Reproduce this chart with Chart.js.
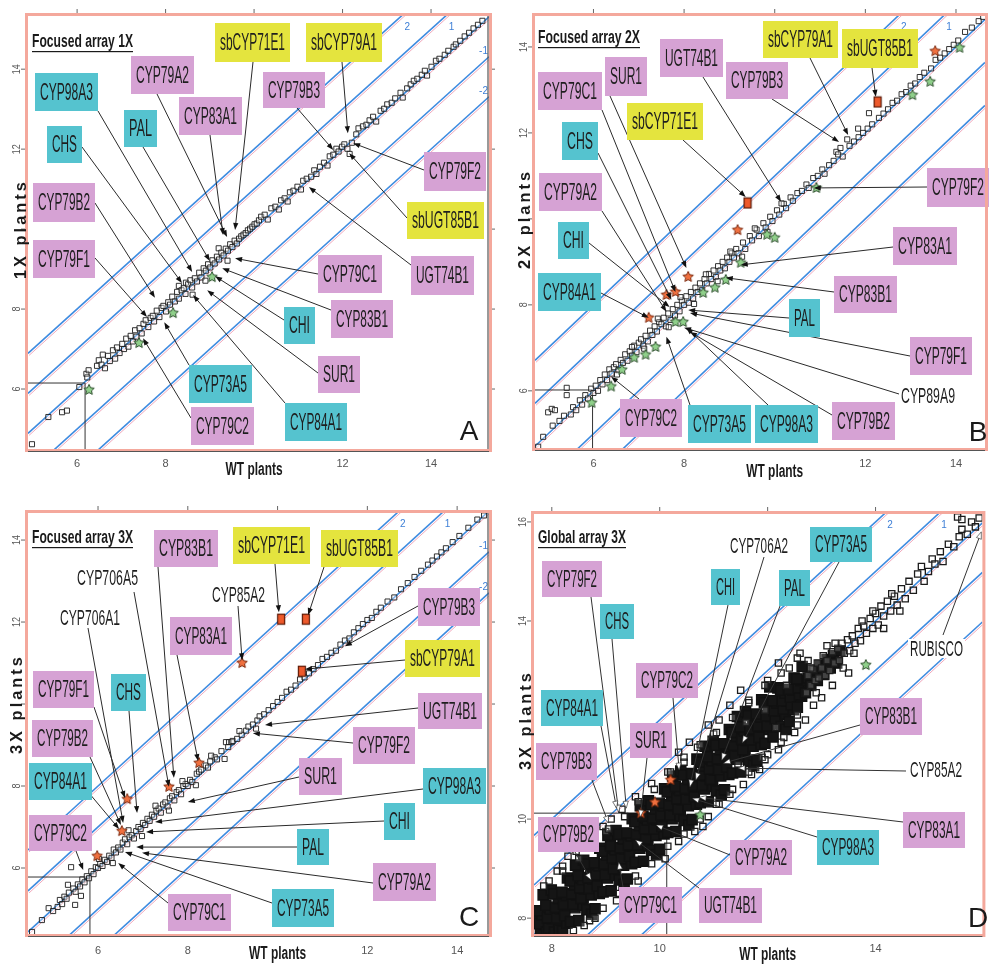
<!DOCTYPE html>
<html>
<head>
<meta charset="utf-8">
<script src="https://cdn.jsdelivr.net/npm/chart.js@4.4.1/dist/chart.umd.min.js"></script>
<style>
  body { margin: 0; background: #fff; width: 991px; height: 965px; position: relative; overflow: hidden; }
  .panel { position: absolute; }
</style>
</head>
<body>
<div class="panel" style="left:0;top:0;width:495px;height:480px"><canvas id="cA" width="495" height="480"></canvas></div>
<div class="panel" style="left:495px;top:0;width:496px;height:480px"><canvas id="cB" width="496" height="480"></canvas></div>
<div class="panel" style="left:0;top:480px;width:495px;height:485px"><canvas id="cC" width="495" height="485"></canvas></div>
<div class="panel" style="left:495px;top:480px;width:496px;height:485px"><canvas id="cD" width="496" height="485"></canvas></div>
<script>
// ---- log2 expression values: [WT, transgenic] ----
const ticksFocused = [6, 8, 10, 12, 14];
const ticksGlobal = [8, 10, 12, 14, 16];
const ratioLines = [-2, -1, 0, 1, 2];

const pointsA = [
[4.98,4.62],[5.35,5.30],[5.66,5.42],[5.77,5.46],[6.05,6.05],[6.21,6.38],[6.26,6.47],[6.23,6.29],
[6.45,6.58],[6.49,6.72],[6.55,6.61],[6.58,6.86],[6.63,6.52],[6.70,6.83],[6.74,6.70],[6.81,6.97],[6.86,6.76],[6.90,7.04],[6.96,6.90],[7.02,7.13],[7.06,7.00],[7.11,7.26],[7.16,7.06],[7.21,7.33],[7.26,7.19],[7.31,7.47],[7.34,7.31],[7.41,7.52],[7.46,7.39],[7.50,7.63],[7.55,7.72],[7.61,7.55],[7.66,7.78],[7.71,7.83],[7.74,7.69],[7.80,7.96],[7.86,7.80],[7.91,8.03],[7.95,8.08],[8.01,7.94],[8.06,8.17],[8.10,8.11],
[8.15,8.31],[8.21,8.19],[8.26,8.43],[8.30,8.26],[8.30,8.58],[8.36,8.47],[8.41,8.52],[8.45,8.38],[8.46,8.66],[8.51,8.62],[8.56,8.72],[8.60,8.54],[8.61,8.36],[8.66,8.77],[8.71,8.69],[8.76,8.91],[8.81,8.79],[8.86,9.02],[8.90,8.71],[8.91,8.96],[8.96,9.12],[9.01,9.04],[9.06,9.22],[9.11,9.14],[9.16,9.31],[9.20,9.52],[9.21,9.24],[9.26,9.41],[9.31,9.34],[9.36,9.51],[9.40,9.21],[9.41,9.46],[9.46,9.62],[9.51,9.55],[9.56,9.71],[9.61,9.64],[9.66,9.76],[9.71,9.82],[9.76,9.86],[9.81,9.90],[9.86,9.97],[9.91,10.01],[9.96,10.06],[10.01,10.12],[10.06,10.14],[10.11,10.22],
[10.16,10.31],[10.24,10.36],[10.31,10.24],[10.39,10.52],[10.48,10.56],[10.56,10.49],[10.61,10.72],[10.69,10.77],[10.76,10.69],[10.81,10.92],[10.89,10.96],[10.98,11.06],[11.06,10.99],[11.11,11.21],[11.19,11.26],[11.29,11.31],[11.36,11.47],[11.41,11.38],[11.49,11.56],[11.58,11.66],[11.66,11.59],[11.71,11.82],[11.79,11.86],[11.86,12.01],[11.91,11.94],[11.99,12.06],[12.04,12.12],[12.11,12.01],[12.16,11.88],[12.21,12.16],[12.31,12.37],[12.36,12.52],
[12.46,12.57],[12.54,12.61],[12.61,12.72],[12.69,12.81],[12.76,12.69],[12.86,12.96],[12.94,13.01],[13.01,13.12],[13.11,13.16],[13.19,13.27],[13.31,13.41],[13.36,13.29],[13.46,13.52],[13.54,13.62],[13.61,13.71],[13.69,13.76],[13.79,13.86],[13.86,13.96],[13.91,13.84],[14.01,14.06],[14.11,14.21],[14.19,14.26],[14.31,14.36],[14.39,14.46],[14.51,14.56],[14.56,14.62],[14.66,14.71],[14.76,14.82],[14.86,14.91],[14.96,15.02],[15.06,15.11],[15.16,15.21]];
const greenA = [[6.27,5.98],[7.40,7.15],[8.17,7.90],[9.05,8.80]];
const orangeStarA = [];
const orangeSqA = [];
const cutA = [6.18, 6.15];

const pointsB = [
[4.78,4.70],[4.89,4.93],[5.10,5.19],[5.00,5.50],[5.08,5.58],[5.15,5.55],[5.41,6.07],[5.41,5.90],[5.25,5.30],[5.35,5.42],[5.50,5.45],[5.55,5.62],[5.62,5.55],[5.70,5.78],[5.75,5.68],[5.82,5.90],[5.88,5.82],[5.95,6.05],[6.00,5.95],[6.05,6.12],[6.10,6.00],[6.15,6.25],[6.20,6.15],[6.25,6.38],[6.30,6.25],[6.35,6.50],[6.40,6.40],[6.45,6.55],[6.50,6.62],[6.55,6.48],[6.60,6.72],[6.65,6.65],[6.70,6.85],[6.75,6.70],[6.80,6.92],[6.85,6.82],[6.90,7.05],[6.95,6.90],[7.00,7.12],[7.05,7.20],[7.10,7.05],[7.15,7.28],[7.20,7.15],[7.25,7.40],[7.30,7.30],[7.35,7.50],[7.40,7.38],[7.45,7.60],[7.50,7.55],[7.55,7.70],[7.60,7.50],[7.65,7.80],[7.70,7.65],[7.75,7.90],[7.80,7.75],[7.85,8.00],[7.90,7.85],[7.95,8.10],[8.00,8.00],[8.05,8.20],[8.10,8.05],[8.15,8.30],[8.20,8.15],[8.25,8.40],[8.30,8.30],[8.35,8.50],[8.40,8.35],[8.45,8.60],[8.50,8.50],[8.55,8.72],[8.60,8.60],[8.65,8.80],[8.70,8.65],[8.75,8.90],[8.80,8.80],[8.85,9.00],[8.90,8.85],[8.95,9.10],[9.00,9.00],[9.05,9.20],[9.10,9.10],[9.15,9.30],[9.20,9.20],[9.30,9.45],[9.35,9.30],[9.45,9.60],[9.50,9.50],[9.60,9.75],[9.65,9.60],[9.75,9.90],[9.80,9.80],[9.90,10.05],[9.95,9.95],[10.05,10.20],[10.10,10.10],[10.20,10.35],[10.25,10.25],[10.35,10.50],[10.40,10.42],[10.50,10.60],[10.60,10.65],[10.70,10.80],[10.75,10.72],[10.85,10.95],[10.95,11.00],[11.05,11.15],[11.10,11.05],[11.20,11.25],[11.30,11.35],[11.36,11.56],[11.40,11.50],[11.45,11.65],[11.50,11.45],[11.60,11.85],[11.65,11.70],[11.75,11.80],[11.84,12.10],[11.85,11.90],[11.95,12.00],[12.08,12.46],[12.05,12.10],[12.15,12.20],[12.30,12.35],[12.40,12.45],[12.50,12.55],[12.60,12.70],[12.70,12.75],[12.80,12.90],[12.90,12.95],[13.00,13.10],[13.10,13.15],[13.20,13.30],[13.30,13.40],[13.45,13.50],[13.55,13.70],[13.65,13.75],[13.75,13.85],[13.85,13.95],[13.95,14.05],[14.05,14.15],[14.20,14.35],[14.35,14.45],[14.50,14.60],[14.60,14.70],
[6.52,6.38],[6.85,7.02],[7.12,6.98],[7.42,7.68],[7.66,7.48],[7.92,8.18],[8.22,8.02],[8.48,8.71],[8.74,8.55],[9.02,9.24],[9.28,9.12],[9.56,9.78],[9.84,9.70],[10.15,10.36]];
const greenB = [[14.08,13.98],[13.43,13.19],[13.04,12.88],[10.92,10.72],[9.83,9.63],[10.00,9.56],[9.25,8.98],[8.92,8.58],[8.68,8.40],[8.42,8.28],[7.98,7.60],[7.81,7.60],[7.37,7.02],[7.15,6.84],[6.90,6.77],[6.63,6.49],[6.39,6.10],[5.96,5.72]];
const orangeStarB = [[9.18,9.74],[8.09,8.65],[7.81,8.30],[7.61,8.23],[7.22,7.70],[13.54,13.90]];
const orangeSqB = [[12.27,12.72],[9.40,10.37]];
const cutB = [5.98, 6.02];

const pointsC = [
[4.53,4.44],[4.75,4.73],[4.90,5.02],[5.49,5.10],[5.33,5.59],[5.40,6.02],[5.00,4.95],[5.10,5.05],[5.15,5.22],[5.20,5.12],[5.25,5.30],[5.30,5.25],[5.35,5.40],[5.45,5.50],[5.50,5.42],[5.55,5.60],[5.60,5.55],[5.65,5.72],[5.70,5.65],[5.75,5.80],[5.80,5.75],[5.85,5.92],[5.90,5.85],[5.95,6.02],[6.00,6.00],[6.05,6.10],[6.10,6.05],[6.15,6.20],[6.20,6.15],[6.25,6.30],[6.30,6.25],[6.35,6.45],[6.40,6.38],[6.45,6.50],[6.50,6.45],[6.55,6.62],[6.60,6.70],[6.65,6.58],[6.70,6.75],[6.75,6.80],[6.80,6.72],[6.85,6.90],[6.90,7.00],[6.95,6.95],[7.00,7.10],[7.05,7.05],[7.10,7.20],[7.15,7.15],[7.20,7.30],[7.25,7.25],[7.30,7.40],[7.35,7.45],[7.40,7.35],[7.45,7.55],[7.50,7.60],[7.55,7.50],[7.60,7.70],[7.65,7.75],[7.70,7.65],[7.75,7.85],[7.80,7.90],[7.85,7.80],[7.90,8.00],[7.95,8.05],[8.00,8.00],[8.05,8.15],[8.10,8.10],[8.20,8.30],[8.25,8.35],[8.30,8.40],[8.40,8.50],[8.45,8.45],[8.50,8.60],[8.60,8.70],[8.65,8.65],[8.75,8.85],[8.85,9.07],[8.92,9.07],[8.98,9.07],[8.90,8.95],[9.00,9.10],[9.10,9.15],[9.20,9.25],[9.30,9.35],[9.35,9.45],[9.45,9.50],[9.55,9.60],[9.60,9.70],[9.70,9.75],[9.80,9.85],[9.90,9.95],[10.00,10.05],[10.10,10.15],[10.20,10.30],[10.30,10.35],[10.40,10.45],[10.50,10.60],[10.60,10.65],[10.70,10.75],[10.80,10.85],[10.90,10.95],[11.00,11.10],[11.10,11.15],[11.20,11.25],[11.30,11.30],[11.40,11.45],[11.50,11.55],[11.60,11.60],[11.70,11.75],[11.80,11.85],[11.90,11.95],[12.00,12.05],[12.10,12.10],[12.20,12.25],[12.30,12.35],[12.45,12.50],[12.60,12.60],[12.75,12.80],[12.90,12.95],[13.05,13.10],[13.20,13.25],[13.35,13.40],[13.45,13.50],[13.55,13.60],[13.65,13.70],[13.75,13.80],[13.90,13.95],[14.05,14.10],[14.25,14.30],[14.45,14.50],[14.60,14.60],
[5.62,5.32],[6.02,6.22],[6.33,6.12],[6.68,6.92],[6.98,6.78],[7.28,7.52],[7.58,7.40],[7.88,8.12],[8.18,8.02],[8.52,8.74],[8.82,8.66],[9.15,9.34],[9.52,9.40]];
const greenC = [];
const orangeStarC = [[9.21,11.00],[8.25,8.56],[7.58,7.98],[6.65,7.68],[6.53,6.90],[5.98,6.29]];
const orangeSqC = [[10.08,12.07],[10.63,12.07],[10.54,10.80]];
const cutC = [5.82, 5.78];

// dense core of the global array
const coreD = [
[7.75,7.95],[7.83,7.70],[7.79,7.72],[7.86,7.87],[7.77,7.89],[7.82,8.07],[7.74,8.15],[7.84,8.47],
[7.90,7.72],[7.98,7.70],[7.94,7.80],[8.01,7.99],[7.92,8.01],[7.97,8.18],[7.89,8.26],[7.99,8.57],
[8.05,7.72],[8.13,7.87],[8.09,8.00],[8.16,8.19],[8.07,8.22],[8.12,8.40],[8.04,8.49],[8.14,7.76],
[8.20,7.74],[8.28,7.90],[8.24,8.05],[8.31,8.26],[8.22,8.28],[8.27,8.46],[8.19,8.52],[8.29,8.81],
[8.35,7.93],[8.43,8.21],[8.39,8.28],[8.46,8.47],[8.37,8.49],[8.42,8.67],[8.34,8.75],[8.44,9.07],
[8.50,7.95],[8.58,8.26],[8.54,8.40],[8.61,8.59],[8.52,8.61],[8.57,8.78],[8.49,8.86],[8.59,9.17],
[8.65,8.17],[8.73,8.47],[8.69,8.60],[8.76,8.79],[8.67,8.82],[8.72,9.00],[8.64,9.09],[8.74,8.08],
[8.80,8.19],[8.88,8.50],[8.84,8.65],[8.91,8.86],[8.82,8.88],[8.87,9.06],[8.79,9.12],[8.89,9.41],
[8.95,8.53],[9.03,8.81],[8.99,8.88],[9.06,9.07],[8.97,9.09],[9.02,9.27],[8.94,9.35],[9.04,9.67],
[9.10,8.55],[9.18,8.86],[9.14,9.00],[9.21,9.19],[9.12,9.21],[9.17,9.38],[9.09,9.46],[9.19,9.77],
[9.25,8.77],[9.33,9.07],[9.29,9.20],[9.36,9.39],[9.27,9.42],[9.32,9.60],[9.24,9.69],[9.34,8.68],
[9.40,8.79],[9.48,9.10],[9.44,9.25],[9.51,9.46],[9.42,9.48],[9.47,9.66],[9.39,9.72],[9.49,10.01],
[9.55,9.13],[9.63,9.41],[9.59,9.48],[9.66,9.67],[9.57,9.69],[9.62,9.87],[9.54,9.95],[9.64,10.27],
[9.70,9.15],[9.78,9.46],[9.74,9.60],[9.81,9.79],[9.72,9.81],[9.77,9.98],[9.69,10.06],[9.79,10.37],
[9.85,9.37],[9.93,9.67],[9.89,9.80],[9.96,9.99],[9.87,10.02],[9.92,10.20],[9.84,10.29],[9.94,9.28],
[10.00,9.39],[10.08,9.70],[10.04,9.85],[10.11,10.06],[10.02,10.08],[10.07,10.26],[9.99,10.32],[10.09,10.61],
[10.15,9.73],[10.23,10.01],[10.19,10.08],[10.26,10.27],[10.17,10.29],[10.22,10.47],[10.14,10.55],[10.24,10.87],
[10.30,9.75],[10.38,10.06],[10.34,10.20],[10.41,10.39],[10.32,10.41],[10.37,10.58],[10.29,10.66],[10.39,10.97],
[10.45,9.97],[10.53,10.27],[10.49,10.40],[10.56,10.59],[10.47,10.62],[10.52,10.80],[10.44,10.89],[10.54,9.88],
[10.60,9.99],[10.68,10.30],[10.64,10.45],[10.71,10.66],[10.62,10.68],[10.67,10.86],[10.59,10.92],[10.69,11.21],
[10.75,10.33],[10.83,10.61],[10.79,10.68],[10.86,10.87],[10.77,10.89],[10.82,11.07],[10.74,11.15],[10.84,11.47],
[10.90,10.35],[10.98,10.66],[10.94,10.80],[11.01,10.99],[10.92,11.01],[10.97,11.18],[10.89,11.26],[10.99,11.57],
[11.05,10.57],[11.13,10.87],[11.09,11.00],[11.16,11.19],[11.07,11.22],[11.12,11.40],[11.04,11.49],[11.14,10.48],
[11.20,10.59],[11.28,10.90],[11.24,11.05],[11.31,11.26],[11.22,11.28],[11.27,11.46],[11.19,11.52],[11.29,11.81],
[11.35,10.93],[11.43,11.21],[11.39,11.28],[11.46,11.47],[11.37,11.49],[11.42,11.67],[11.34,11.75],[11.44,12.07],
[11.50,10.95],[11.58,11.26],[11.54,11.40],[11.61,11.59],[11.52,11.61],[11.57,11.78],[11.49,11.86],[11.59,12.17],
[11.65,11.17],[11.73,11.47],[11.69,11.60],[11.76,11.79],[11.67,11.82],[11.72,12.00],[11.64,12.09],[11.74,11.08],
[11.80,11.19],[11.88,11.50],[11.84,11.65],[11.91,11.86],[11.82,11.88],[11.87,12.06],[11.79,12.12],[11.89,12.41],
[11.95,11.53],[12.03,11.81],[11.99,11.88],[12.06,12.07],[11.97,12.09],[12.02,12.27],[11.94,12.35],[12.04,12.67],
[12.10,11.66],[12.18,11.92],[12.14,12.03],[12.21,12.19],[12.12,12.19],[12.17,12.34],[12.09,12.39],[12.19,12.65],
[12.25,11.87],[12.33,12.12],[12.29,12.22],[12.36,12.38],[12.27,12.39],[12.32,12.54],[12.24,12.60],[12.34,11.81],
[12.40,11.97],[12.48,12.21],[12.44,12.31],[12.51,12.47],[12.42,12.46],[12.47,12.60],[12.39,12.62],[12.49,12.85],
[12.55,12.26],[12.63,12.48],[12.59,12.51],[12.66,12.67],[12.57,12.65],[12.62,12.80],[12.54,12.83],[12.64,13.08],
[12.70,12.55],[12.75,12.85],[12.80,12.70],[12.86,13.00],[12.92,12.80],[12.98,13.10],[13.04,12.92],[13.10,13.22],[13.16,13.05],[13.22,13.30],[13.28,13.15],[13.34,13.40]];
// upper tail and scattered genes of the global array
const pointsD = [
[12.72,12.55],[12.75,12.90],[12.80,12.70],[12.84,13.02],[12.88,12.80],[12.92,13.15],[12.95,12.85],[13.00,13.05],[13.03,13.30],[13.07,12.90],[13.10,13.20],[13.15,13.00],[13.20,13.38],[13.24,13.15],[13.30,13.45],[13.33,13.20],[13.38,13.55],[13.42,13.35],[13.48,13.62],[13.52,13.40],[13.57,13.70],[13.62,13.55],[13.68,13.85],[13.72,13.60],[13.78,13.90],[13.83,13.75],[13.90,14.05],[13.95,13.85],[14.00,14.15],[14.05,13.92],[14.10,14.30],[14.15,14.10],[14.22,14.40],[14.28,14.20],[14.35,14.50],[14.40,14.32],[14.48,14.65],[14.55,14.45],[14.62,14.80],[14.70,14.62],[14.78,14.95],[14.85,15.10],[14.90,14.80],[14.98,15.00],[15.05,15.25],[15.10,15.15],[15.20,15.40],[15.25,15.20],[15.35,15.55],[15.45,15.50],[15.55,15.70],[15.60,15.85],[15.70,15.75],[15.78,16.00],[15.85,15.90],[15.92,16.08],[15.52,16.10],[15.60,16.05],
[9.10,10.00],[9.30,10.20],[10.35,11.35],[10.55,11.55],[10.70,11.45],[10.90,11.90],[11.10,12.00],[11.30,12.30],[11.50,12.60],[12.20,13.15],[12.40,13.05],[8.60,9.55],[9.00,9.75],[8.10,8.95],[8.30,9.25],
[9.60,8.75],[10.10,9.20],[10.80,9.85],[10.90,10.05],[11.30,10.50],[11.70,10.90],[11.90,11.25],[12.00,11.30],[12.50,11.75],[12.30,11.65],[8.80,8.00],[9.20,8.35],[13.50,12.95],[13.20,12.70],[12.75,13.20],[13.10,13.50],
[9.85,10.72],[10.15,10.95],[10.45,11.25],[11.00,11.72],[11.65,12.40],[12.00,12.80],[12.60,13.35],[8.45,9.35],[8.95,9.85],[9.55,10.45],
[10.35,9.55],[10.65,9.75],[11.10,10.30],[11.55,10.70],[11.85,11.00],[12.20,11.40],[12.70,12.00],[13.00,12.45],[9.40,8.55],[8.60,7.85],[7.95,8.75],[8.20,9.05],[7.85,8.65],
[11.45,11.10],[11.60,11.95],[11.95,12.20],[12.15,11.85],[12.35,12.70],[12.55,12.10],[12.80,13.05],[12.90,12.55],[13.25,13.55],[13.40,13.05],[13.60,13.35],[13.75,14.00],[13.95,14.20],[14.15,13.85],[14.30,14.55],[14.45,14.20],
[8.20,8.95],[8.50,9.20],[8.75,9.50],[9.05,9.80],[9.35,10.05],[9.60,10.35],[9.90,10.60],[10.20,10.95],[10.45,11.15],[10.75,11.50],[11.05,11.75],[11.35,12.05],[11.65,12.35],[11.95,12.70],[12.25,12.95],[12.55,13.25],
[8.40,7.75],[8.70,7.95],[8.95,8.20],[9.25,8.50],[9.55,8.85],[9.85,9.10],[10.15,9.45],[10.45,9.70],[10.75,10.00],[11.05,10.30],[11.35,10.60],[11.65,10.95],[11.95,11.20],[12.25,11.55],[12.55,11.90],[12.85,12.30]];
const greenD = [[13.82,13.11],[10.75,10.08]];
const orangeStarD = [[10.20,10.79],[9.91,10.34],[9.65,10.12]];
const orangeSqD = [];
const cutD = [10.13, 10.12];

// ---- labelled genes: name, WT value, transgenic value ----
const genesA = ['sbCYP71E1','sbCYP79A1','CYP79A2','CYP98A3','CYP83A1','CYP79B3','PAL','CHS','CYP79B2','CYP79F1','CYP79F2','sbUGT85B1','UGT74B1','CYP79C1','CYP83B1','CHI','SUR1','CYP73A5','CYP84A1','CYP79C2'];
const wtA = [9.57,12.12,9.39,8.60,9.30,11.79,9.00,8.37,7.76,7.58,12.24,12.15,11.24,9.57,9.28,9.12,8.94,7.97,8.62,7.49];
const tgA = [9.98,12.40,9.80,8.93,9.85,11.98,9.20,8.65,8.28,7.80,12.15,11.90,11.05,9.27,9.02,8.82,8.47,7.67,8.35,7.27];

const genesB = ['sbCYP79A1','sbUGT85B1','UGT74B1','CYP79B3','SUR1','CYP79C1','sbCYP71E1','CHS','CYP79A2','CHI','CYP84A1','CYP79F2','CYP83A1','CYP83B1','PAL','CYP79F1','CYP89A9','CYP79C2','CYP73A5','CYP98A3','CYP79B2'];
const wtB = [11.62,12.23,10.14,11.42,8.05,7.81,9.36,7.72,7.61,7.68,7.22,10.86,9.25,8.92,8.09,8.13,8.00,6.39,7.61,8.05,8.13];
const tgB = [11.95,12.84,10.40,11.79,8.86,8.30,10.51,8.12,7.84,7.95,7.70,10.72,8.93,8.63,7.88,7.81,7.47,6.33,7.26,7.47,7.37];

const genesC = ['CYP83B1','sbCYP71E1','sbUGT85B1','CYP706A5','CYP85A2','CYP706A1','CYP83A1','CYP79B3','sbCYP79A1','UGT74B1','CYP79F2','CYP79F1','CHS','CYP79B2','CYP84A1','SUR1','CYP98A3','CHI','PAL','CYP79A2','CYP73A5','CYP79C1','CYP79C2'];
const wtC = [7.69,10.03,10.68,7.58,9.21,6.56,8.23,11.50,10.61,9.72,9.45,6.60,6.87,6.51,6.47,8.00,7.27,7.07,6.85,6.98,6.60,6.45,5.67];
const tgC = [8.20,12.24,12.17,7.98,11.07,7.10,8.61,11.41,10.85,9.49,9.29,7.71,7.34,7.05,6.95,7.61,7.12,6.88,6.51,6.37,6.39,6.12,5.95];

const genesD = ['CYP706A2','CYP73A5','CHI','PAL','CYP79F2','CHS','CYP79C2','CYP84A1','SUR1','CYP79B3','CYP79B2','CYP79C1','UGT74B1','CYP79A2','CYP98A3','CYP83A1','CYP85A2','CYP83B1','RUBISCO'];
const wtD = [10.67,11.53,10.56,11.15,9.24,9.38,10.36,9.20,9.64,9.05,8.73,9.24,9.55,9.93,10.60,10.73,11.45,11.18,15.96];
const tgD = [10.79,11.54,10.65,11.19,10.14,10.22,10.99,10.22,10.04,9.92,8.77,9.13,9.58,9.88,10.42,10.44,11.03,11.13,15.80];

// ---- callout layout: box x, y, w, h (canvas px), kind, leader start x, y ----
// kinds: P = pathway gene, C = phenylpropanoid gene, Y = sorghum transgene, T = plain text
const boxesA = [
[215,23,75,39,'Y',253,62],[306,23,76,39,'Y',342,62],[131,56,63,38,'P',157,94],[35,73,63,38,'C',98,111],
[179,97,63,38,'P',210,135],[263,72,62,36,'P',297,108],[124,110,33,37,'C',143,147],[47,126,35,37,'C',82,147],
[33,183,62,39,'P',95,203],[33,240,62,38,'P',95,258],[424,152,62,39,'P',424,170],[407,202,77,37,'Y',407,218],
[411,256,63,39,'P',411,265],[318,255,64,38,'P',318,274],[331,300,62,38,'P',331,310],[284,307,31,37,'C',284,320],
[318,356,42,37,'P',318,373],[189,365,63,38,'C',189,365],[285,403,62,38,'C',285,403],[191,407,63,38,'P',191,418]];
const boxesB = [
[268,21,75,37,'Y',315,58],[347,29,76,39,'Y',377,68],[165,39,63,38,'P',208,77],[231,62,62,37,'P',277,99],
[110,57,42,39,'P',115,96],[43,72,64,38,'P',107,110],[132,103,76,37,'Y',188,140],[67,122,36,38,'C',103,153],
[44,173,63,38,'P',107,211],[63,222,31,37,'C',94,243],[43,273,63,38,'C',106,293],[432,168,62,39,'P',432,187],
[398,227,64,38,'P',398,247],[339,276,63,37,'P',339,292],[294,299,31,38,'C',294,318],[415,337,62,38,'P',415,356],
[406,387,54,18,'T',404,394],[125,399,62,38,'P',144,399],[193,405,63,38,'C',195,405],[260,405,63,38,'C',273,405],
[337,402,63,38,'P',337,415]];
const boxesC = [
[154,50,64,37,'P',158,87],[233,47,77,37,'Y',275,84],[321,50,77,37,'Y',324,87],[77,90,61,16,'T',134,112],
[212,107,53,16,'T',238,126],[60,130,60,16,'T',88,148],[170,137,62,38,'P',177,175],[418,108,62,38,'P',418,126],
[405,160,75,37,'Y',405,180],[418,213,64,36,'P',418,228],[353,247,62,37,'P',353,263],[33,191,61,37,'P',94,227],
[111,194,35,37,'C',129,231],[32,240,61,37,'P',90,277],[29,283,63,37,'C',89,313],[299,278,43,37,'P',299,297],
[423,288,63,36,'C',423,309],[384,323,31,37,'C',384,341],[297,349,32,36,'C',297,367],[373,383,63,38,'P',373,403],
[272,409,62,38,'C',272,423],[168,414,63,37,'P',168,423],[29,335,63,36,'P',76,371]];
const boxesD = [
[235,57,58,18,'T',269,77],[315,47,62,35,'C',344,82],[216,89,29,36,'C',233,125],[284,90,31,36,'C',285,126],
[47,81,60,36,'P',96,117],[105,124,34,35,'C',117,159],[141,183,62,35,'P',178,218],[46,210,62,36,'C',106,246],
[135,243,42,35,'P',152,278],[41,263,61,37,'P',97,300],[43,337,61,35,'P',80,372],[124,407,63,36,'P',128,407],
[204,408,63,35,'P',204,408],[235,360,62,35,'P',235,375],[322,350,62,35,'C',322,357],[408,332,62,36,'P',408,342],
[415,282,52,16,'T',411,291],[365,218,62,37,'P',365,245],[415,160,53,17,'T',448,155]];

const FONT = '"Liberation Sans", Arial, sans-serif';
const BOX_FILL = { P: '#d6a2d4', C: '#55c3cf', Y: '#e4e43e', T: '#ffffff' };

function fitText(ctx, text, cx, cy, font, width, angle) {
  ctx.save();
  ctx.translate(cx, cy);
  if (angle) ctx.rotate(angle);
  ctx.font = font;
  const m = ctx.measureText(text).width;
  ctx.scale(width / m, 1);
  ctx.textAlign = 'center';
  ctx.textBaseline = 'middle';
  ctx.fillText(text, 0, 0);
  ctx.restore();
}

function starSprite(fill, stroke, r) {
  const s = Math.ceil(r * 2 + 3);
  const c = document.createElement('canvas');
  c.width = c.height = s;
  const g = c.getContext('2d');
  g.beginPath();
  for (let i = 0; i < 10; i++) {
    const a = -Math.PI / 2 + i * Math.PI / 5;
    const rr = i % 2 ? r * 0.48 : r;
    g.lineTo(s / 2 + rr * Math.cos(a), s / 2 + rr * Math.sin(a));
  }
  g.closePath();
  g.fillStyle = fill; g.fill();
  g.strokeStyle = stroke; g.lineWidth = 1; g.stroke();
  return c;
}
function blockSprite(fill, stroke, w, h) {
  const c = document.createElement('canvas');
  c.width = w + 2; c.height = h + 2;
  const g = c.getContext('2d');
  g.fillStyle = fill; g.fillRect(1, 1, w, h);
  g.strokeStyle = stroke; g.lineWidth = 1.2; g.strokeRect(1.5, 1.5, w - 1, h - 1);
  return c;
}
const greenStar = starSprite('#8fd08a', '#2f4f2f', 5.5);
const orangeStar = starSprite('#f0703f', '#7a2a10', 5.5);
const orangeBlock = blockSprite('#ee5a2c', '#5a1a08', 8, 11);

function arrow(ctx, x0, y0, x1, y1, headFill, lineColor) {
  const ang = Math.atan2(y1 - y0, x1 - x0);
  const L = 7, W = 2.6;
  ctx.strokeStyle = lineColor; ctx.lineWidth = 1;
  ctx.beginPath(); ctx.moveTo(x0, y0);
  ctx.lineTo(x1 - Math.cos(ang) * L * 0.8, y1 - Math.sin(ang) * L * 0.8); ctx.stroke();
  ctx.beginPath();
  ctx.moveTo(x1, y1);
  ctx.lineTo(x1 - L * Math.cos(ang) + W * Math.sin(ang), y1 - L * Math.sin(ang) - W * Math.cos(ang));
  ctx.lineTo(x1 - L * Math.cos(ang) - W * Math.sin(ang), y1 - L * Math.sin(ang) + W * Math.cos(ang));
  ctx.closePath();
  ctx.fillStyle = headFill; ctx.fill();
  if (headFill !== '#111') { ctx.strokeStyle = '#222'; ctx.lineWidth = 0.6; ctx.stroke(); }
}

function decor(p) {
  return {
    id: 'decor' + p.letter,
    beforeDatasetsDraw(chart) {
      const { ctx, chartArea: a, scales: { x, y } } = chart;
      ctx.save();
      ctx.beginPath(); ctx.rect(a.left, a.top, a.width, a.height); ctx.clip();
      ratioLines.forEach(k => {
        const x0 = x.getPixelForValue(x.min), y0 = y.getPixelForValue(x.min + k);
        const x1 = x.getPixelForValue(x.max), y1 = y.getPixelForValue(x.max + k);
        ctx.strokeStyle = 'rgba(236,140,165,0.75)'; ctx.lineWidth = 1;
        ctx.beginPath(); ctx.moveTo(x0 + 1, y0 + 2); ctx.lineTo(x1 + 1, y1 + 2); ctx.stroke();
        ctx.strokeStyle = '#3d8be0'; ctx.lineWidth = 1.6;
        ctx.beginPath(); ctx.moveTo(x0, y0); ctx.lineTo(x1, y1); ctx.stroke();
      });
      // detection-limit guides
      const cx = x.getPixelForValue(p.cut[0]), cy = y.getPixelForValue(p.cut[1]);
      ctx.strokeStyle = '#333'; ctx.lineWidth = 1;
      ctx.beginPath(); ctx.moveTo(a.left, cy); ctx.lineTo(cx, cy); ctx.lineTo(cx, a.bottom); ctx.stroke();
      // fold-change line labels
      ctx.fillStyle = '#3d7fd6'; ctx.font = '10px ' + FONT; ctx.textBaseline = 'middle';
      ratioLines.forEach(k => {
        if (k > 0) {
          const tx = x.getPixelForValue(y.max - k);
          ctx.textAlign = 'left'; ctx.fillText(String(k), tx + 3, a.top + 11);
        } else if (k < 0 && p.rightLine) {
          const ty = y.getPixelForValue(x.max + k);
          ctx.textAlign = 'right'; ctx.fillText(String(k), a.right - 1, ty - 6);
        }
      });
      ctx.restore();
    },
    afterDatasetsDraw(chart) {
      const { ctx, chartArea: a, scales: { x, y } } = chart;
      ctx.save();
      // leaders
      p.genes.forEach((g, i) => {
        const b = p.boxes[i];
        const tx = x.getPixelForValue(p.wt[i]), ty = y.getPixelForValue(p.tg[i]);
        arrow(ctx, b[5], b[6], tx, ty, p.headFill, p.lineColor);
      });
      // callout boxes
      p.genes.forEach((g, i) => {
        const [bx, by, bw, bh, kind] = p.boxes[i];
        ctx.fillStyle = BOX_FILL[kind];
        if (kind === 'T') ctx.fillRect(bx - 2, by - 1, bw + 4, bh + 2);
        else ctx.fillRect(bx, by, bw, bh);
        ctx.fillStyle = '#1e1e1e';
        if (kind === 'T') fitText(ctx, g, bx + bw / 2, by + bh / 2 + 1, '22px ' + FONT, bw);
        else fitText(ctx, g, bx + bw / 2, by + bh / 2 + 1, '24px ' + FONT, bw - 10);
      });
      // frame
      ctx.strokeStyle = '#f4a89c'; ctx.lineWidth = 3;
      ctx.strokeRect(a.left - 1.5, a.top - 1.5, a.width + 3, a.height + 3);
      ctx.strokeStyle = '#555'; ctx.lineWidth = 1.2;
      ctx.beginPath(); ctx.moveTo(a.left, a.bottom + 2.5); ctx.lineTo(a.right, a.bottom + 2.5); ctx.stroke();
      if (p.rightLine) { ctx.beginPath(); ctx.moveTo(a.right - 1, a.top); ctx.lineTo(a.right - 1, a.bottom); ctx.stroke(); }
      // tick marks and rotated y tick labels
      ctx.strokeStyle = '#666'; ctx.lineWidth = 1;
      p.xTicks.forEach(v => {
        const px = x.getPixelForValue(v);
        if (px > a.left && px < a.right) { ctx.beginPath(); ctx.moveTo(px, a.top - 3); ctx.lineTo(px, a.top - 7); ctx.stroke(); }
      });
      ctx.fillStyle = '#555';
      p.yTicks.forEach(v => {
        const py = y.getPixelForValue(v);
        if (py < a.top || py > a.bottom) return;
        ctx.beginPath(); ctx.moveTo(a.left - 3, py); ctx.lineTo(a.left - 7, py); ctx.stroke();
        if (p.rightLine) { ctx.beginPath(); ctx.moveTo(a.right + 3, py); ctx.lineTo(a.right + 6, py); ctx.stroke(); }
        if (v !== p.hideY) fitText(ctx, String(v), a.left - 11, py, '10px ' + FONT, v >= 10 ? 10 : 5, -Math.PI / 2);
      });
      // axis titles
      ctx.fillStyle = '#1a1a1a';
      fitText(ctx, 'WT plants', x.getPixelForValue(p.hideX), p.xTitleY, 'bold 18px ' + FONT, 57);
      ctx.save();
      ctx.letterSpacing = '3px';
      fitText(ctx, p.yTitle, a.left - p.yTitleGap, y.getPixelForValue(p.hideY), 'bold 16px ' + FONT, 100, -Math.PI / 2);
      ctx.restore();
      // panel title
      const [tx, ty, tw] = p.titleBox;
      fitText(ctx, p.title, tx + tw / 2, ty, 'bold 18px ' + FONT, tw);
      ctx.fillRect(tx, ty + 9, tw, 1.2);
      // panel letter
      ctx.font = '28px ' + FONT; ctx.textAlign = 'center'; ctx.textBaseline = 'middle';
      ctx.fillText(p.letter, p.letterPos[0], p.letterPos[1]);
      ctx.restore();
    }
  };
}

function build(p) {
  const toXY = arr => arr.map(([x, y]) => ({ x, y }));
  const datasets = [
    { data: toXY(p.orangeSq), pointStyle: orangeBlock, pointRadius: 5 },
    { data: toXY(p.orangeStar), pointStyle: orangeStar, pointRadius: 5 },
    { data: toXY(p.green), pointStyle: greenStar, pointRadius: 5 },
    { data: toXY(p.points), pointStyle: 'rect', pointRadius: p.r, borderColor: '#1c1c1c',
      backgroundColor: p.fill, borderWidth: p.bw }
  ];
  if (p.core) {
    datasets.push({ data: toXY(p.core), pointStyle: 'rect', pointRadius: 7.2, borderColor: '#111',
      backgroundColor: '#151515', borderWidth: 1.4 });
  }
  new Chart(document.getElementById(p.id), {
    type: 'scatter',
    data: { datasets },
    options: {
      responsive: false, animation: false, devicePixelRatio: 1,
      layout: { padding: p.pad },
      plugins: { legend: { display: false }, tooltip: { enabled: false } },
      scales: {
        x: {
          type: 'linear', position: 'bottom', min: p.xr[0], max: p.xr[1],
          afterBuildTicks: s => { s.ticks = p.xTicks.filter(v => v <= p.xr[1]).map(v => ({ value: v })); },
          afterFit: s => { s.height = p.xH; },
          grid: { display: false, drawTicks: false }, border: { display: false },
          ticks: { padding: p.xPad, color: '#555', font: { size: 11, family: FONT },
                    maxRotation: 0, callback: v => (v === p.hideX ? '' : String(v)) }
        },
        y: {
          type: 'linear', min: p.yr[0], max: p.yr[1],
          afterBuildTicks: s => { s.ticks = p.yTicks.map(v => ({ value: v })); },
          afterFit: s => { s.width = p.yW; },
          grid: { display: false, drawTicks: false }, border: { display: false },
          ticks: { display: false }
        }
      }
    },
    plugins: [decor(p)]
  });
}

const common = { headFill: '#111', lineColor: '#2a2a2a', r: 3.6, fill: 'rgba(255,255,255,0.35)', bw: 0.9 };

build(Object.assign({}, common, {
  id: 'cA', letter: 'A', title: 'Focused array 1X', yTitle: '1X plants',
  points: pointsA, green: greenA, orangeStar: orangeStarA, orangeSq: orangeSqA, cut: cutA,
  genes: genesA, wt: wtA, tg: tgA, boxes: boxesA,
  xr: [4.89, 15.31], yr: [4.5, 15.33], xTicks: ticksFocused, yTicks: ticksFocused, hideX: 10, hideY: 10,
  pad: { left: 0, top: 16, right: 6, bottom: 0 }, yW: 28, xH: 31, xPad: 8, rightLine: true,
  xTitleY: 470, yTitleGap: 6, titleBox: [32, 42, 101], letterPos: [469, 432]
}));
build(Object.assign({}, common, {
  id: 'cB', letter: 'B', title: 'Focused array 2X', yTitle: '2X plants',
  points: pointsB, green: greenB, orangeStar: orangeStarB, orangeSq: orangeSqB, cut: cutB,
  genes: genesB, wt: wtB, tg: tgB, boxes: boxesB,
  xr: [4.71, 14.64], yr: [4.67, 14.72], xTicks: ticksFocused, yTicks: ticksFocused, hideX: 10, hideY: 10,
  pad: { left: 0, top: 16, right: 0, bottom: 0 }, yW: 40, xH: 32, xPad: 9, rightLine: false,
  xTitleY: 472, yTitleGap: 9, titleBox: [43, 38, 102], letterPos: [483, 433]
}));
build(Object.assign({}, common, {
  id: 'cC', letter: 'C', title: 'Focused array 3X', yTitle: '3X plants',
  points: pointsC, green: greenC, orangeStar: orangeStarC, orangeSq: orangeSqC, cut: cutC,
  genes: genesC, wt: wtC, tg: tgC, boxes: boxesC,
  xr: [4.44, 14.71], yr: [4.39, 14.66], xTicks: ticksFocused, yTicks: ticksFocused, hideX: 10, hideY: 10,
  pad: { left: 0, top: 33, right: 6, bottom: 0 }, yW: 28, xH: 31, xPad: 10, rightLine: true,
  xTitleY: 474, yTitleGap: 10, titleBox: [32, 58, 101], letterPos: [469, 438]
}));
build(Object.assign({}, common, {
  id: 'cD', letter: 'D', title: 'Global array 3X', yTitle: '3X plants',
  points: pointsD, core: coreD, green: greenD, orangeStar: orangeStarD, orangeSq: orangeSqD, cut: cutD,
  genes: genesD, wt: wtD, tg: tgD, boxes: boxesD,
  headFill: '#ffffff', lineColor: '#333', r: 4.4, fill: 'rgba(255,255,255,0.2)', bw: 1.3,
  xr: [7.67, 15.98], yr: [7.68, 16.16], xTicks: ticksGlobal, yTicks: ticksGlobal, hideX: 12, hideY: 12,
  pad: { left: 0, top: 34, right: 0, bottom: 0 }, yW: 39, xH: 31, xPad: 8, rightLine: false,
  xTitleY: 475, yTitleGap: 7, titleBox: [43, 58, 88], letterPos: [483, 439]
}));
</script>
</body>
</html>
